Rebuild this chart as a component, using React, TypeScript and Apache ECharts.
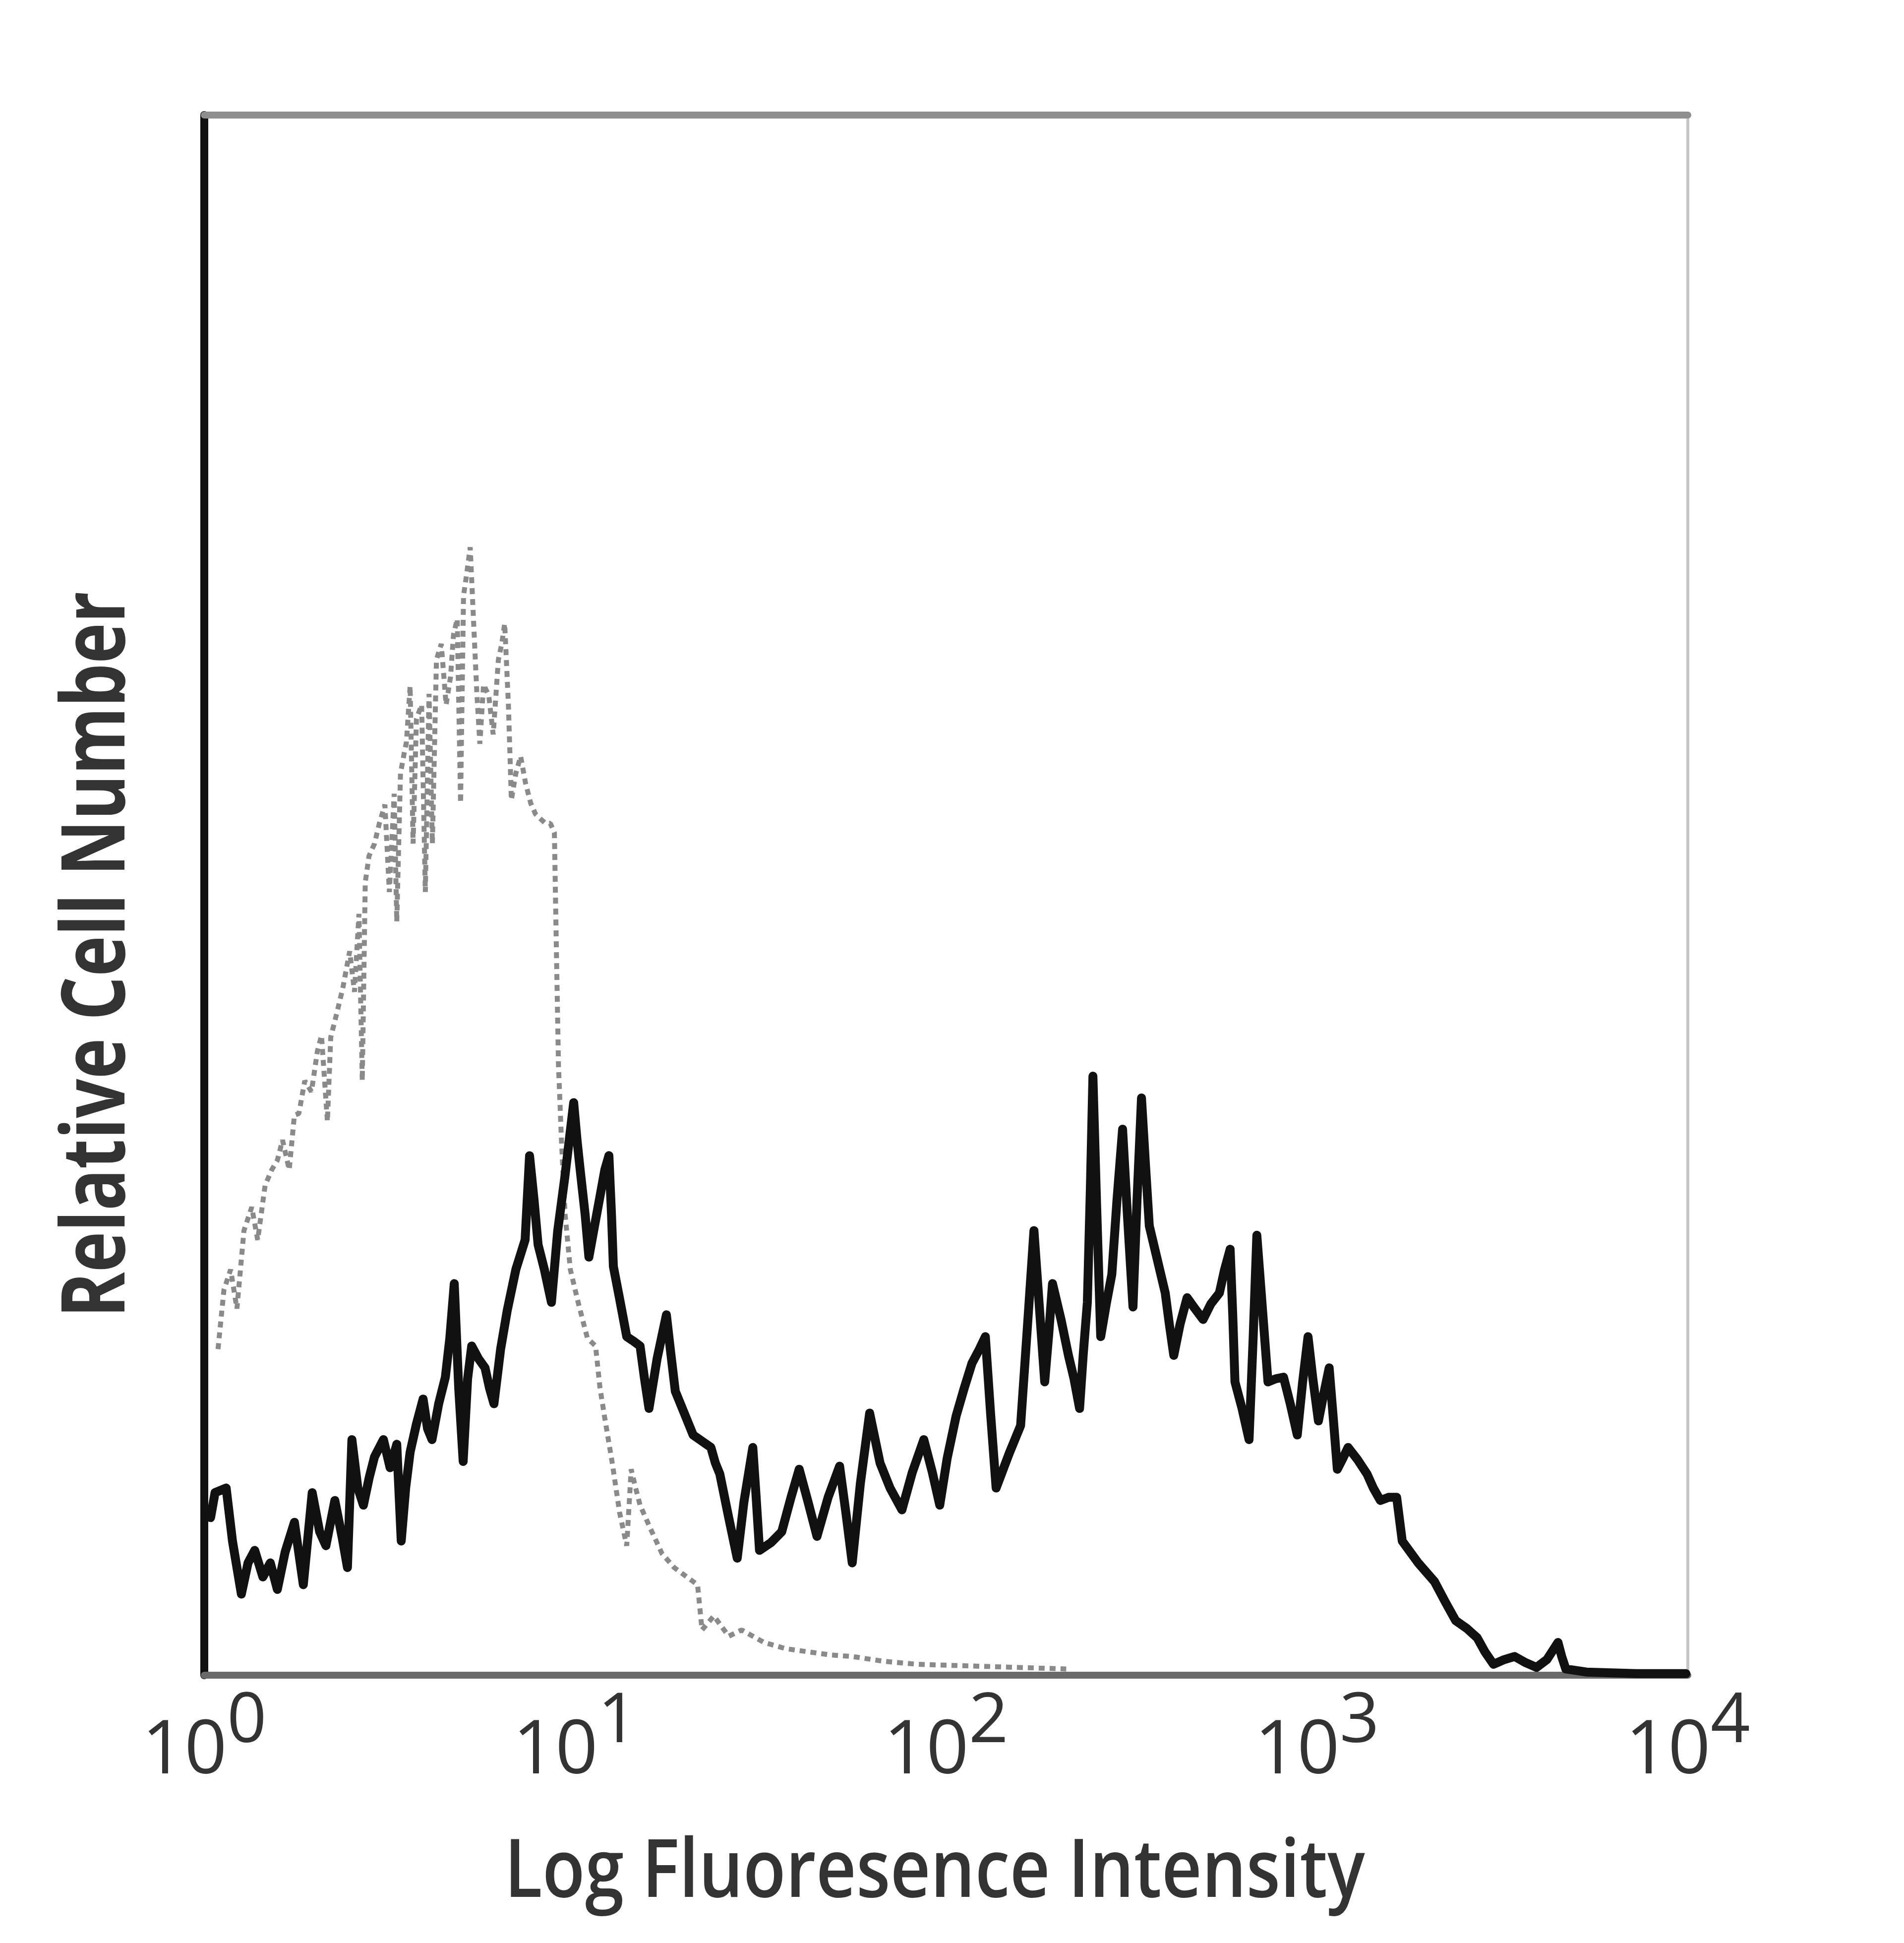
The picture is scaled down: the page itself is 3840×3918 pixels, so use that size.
import React, { useEffect, useRef } from 'react';
import * as echarts from 'echarts';

// Tick exponents for the log-decade x axis (10^n)
const tickExponents = ['0', '1', '2', '3', '4'];
const xTitle = 'Log Fluoresence Intensity';
const yTitle = 'Relative Cell Number';

// Stained sample (solid black histogram): x in decades (log10 intensity), y relative cell number
const stainedX = [0.017,0.029,0.059,0.076,0.100,0.118,0.136,0.158,0.178,0.197,0.218,0.243,0.267,0.291,0.311,0.328,0.352,0.372,0.386,0.398,0.414,0.429,0.445,0.459,0.483,0.501,0.519,0.531,0.543,0.555,0.572,0.590,0.602,0.614,0.632,0.650,0.662,0.674,0.686,0.698,0.710,0.721,0.739,0.757,0.769,0.781,0.799,0.817,0.840,0.865,0.877,0.889,0.900,0.917,0.936,0.953,0.972,0.987,0.996,1.005,1.013,1.027,1.037,1.053,1.067,1.080,1.091,1.098,1.103,1.120,1.139,1.158,1.175,1.187,1.199,1.221,1.246,1.258,1.270,1.294,1.318,1.342,1.366,1.378,1.390,1.414,1.437,1.455,1.479,1.488,1.497,1.528,1.557,1.582,1.604,1.628,1.652,1.682,1.713,1.730,1.747,1.769,1.794,1.822,1.849,1.881,1.909,1.940,1.963,1.983,2.003,2.027,2.049,2.070,2.090,2.106,2.120,2.135,2.170,2.201,2.219,2.237,2.251,2.266,2.277,2.287,2.310,2.330,2.345,2.360,2.370,2.381,2.389,2.396,2.406,2.417,2.432,2.447,2.461,2.476,2.489,2.504,2.515,2.527,2.537,2.548,2.570,2.591,2.602,2.614,2.631,2.650,2.671,2.693,2.714,2.737,2.751,2.766,2.773,2.779,2.798,2.817,2.828,2.838,2.853,2.868,2.889,2.910,2.928,2.947,2.961,2.976,2.989,3.004,3.019,3.033,3.044,3.055,3.070,3.084,3.110,3.135,3.152,3.171,3.193,3.215,3.230,3.273,3.317,3.346,3.374,3.404,3.432,3.453,3.476,3.505,3.533,3.563,3.592,3.620,3.650,3.660,3.671,3.727,3.861,3.995];
const stainedY = [10.1,11.7,12.0,8.6,5.2,7.2,8.0,6.3,7.2,5.5,7.9,9.8,5.8,11.7,9.2,8.3,11.2,8.8,6.9,15.1,12.0,10.9,12.7,14.0,15.1,13.3,14.8,8.6,12.0,14.3,16.1,17.7,15.8,15.1,17.4,19.1,21.6,25.1,18.4,13.7,19.0,21.1,20.3,19.7,18.4,17.4,20.9,23.4,26.0,27.9,33.3,30.5,27.6,26.0,23.9,28.5,31.9,34.9,36.7,34.3,32.5,29.5,26.8,28.9,30.7,32.4,33.3,29.5,26.2,24.1,21.7,21.4,21.1,19.0,17.1,20.3,23.1,20.6,18.2,16.8,15.4,15.0,14.6,13.6,12.9,10.1,7.5,11.1,14.6,11.4,8.0,8.5,9.2,11.4,13.2,11.1,8.9,11.4,13.4,10.4,7.2,12.3,16.8,13.6,12.0,10.6,13.0,15.1,13.0,10.9,13.9,16.6,18.4,20.0,20.9,21.7,16.8,12.0,14.2,16.0,22.2,28.5,23.8,18.8,21.9,25.1,22.8,20.5,19.0,17.1,20.6,23.9,31.1,38.4,30.1,21.7,23.8,25.7,30.5,35.0,29.5,23.6,30.5,37.0,33.0,28.8,26.6,24.5,22.5,20.5,22.5,24.2,23.5,22.8,23.8,24.5,26.0,27.3,23.1,18.8,17.1,15.1,21.6,28.2,23.5,18.8,19.0,19.1,17.4,15.4,18.7,21.7,19.0,16.3,18.1,19.7,16.5,13.2,13.9,14.6,13.8,12.9,12.0,11.2,11.4,11.4,8.6,7.2,6.0,4.7,3.5,3.0,2.4,1.5,0.7,1.0,1.2,0.8,0.5,1.0,2.1,1.2,0.4,0.2,0.1,0.1];

// Isotype control (grey dotted histogram)
const isotypeX = [0.037,0.053,0.071,0.088,0.107,0.128,0.144,0.164,0.182,0.197,0.211,0.229,0.243,0.255,0.271,0.289,0.305,0.316,0.332,0.341,0.358,0.374,0.392,0.405,0.417,0.426,0.434,0.444,0.459,0.472,0.487,0.499,0.512,0.519,0.529,0.539,0.545,0.555,0.563,0.572,0.586,0.596,0.606,0.615,0.626,0.639,0.652,0.664,0.672,0.682,0.691,0.699,0.707,0.717,0.726,0.735,0.743,0.753,0.767,0.779,0.793,0.802,0.810,0.820,0.828,0.840,0.853,0.866,0.880,0.893,0.906,0.920,0.933,0.944,0.949,0.955,0.963,0.973,0.987,1.008,1.033,1.055,1.067,1.079,1.100,1.120,1.139,1.151,1.163,1.175,1.201,1.234,1.267,1.301,1.330,1.342,1.374,1.414,1.449,1.509,1.568,1.628,1.688,1.747,1.829,1.922,2.056,2.190,2.324];
const isotypeY = [20.9,24.7,26.0,23.5,28.5,30.0,27.9,31.4,32.4,33.0,34.3,32.4,35.9,36.0,38.1,37.4,40.0,41.0,35.5,40.9,42.5,44.1,46.4,43.8,48.8,38.1,50.8,52.5,53.3,54.6,55.8,50.2,56.5,48.3,57.8,59.1,59.8,63.4,53.3,61.3,62.2,50.2,62.9,53.3,65.1,66.1,62.2,64.0,66.7,67.7,55.9,69.2,70.5,72.3,67.6,62.9,59.7,63.5,62.8,60.3,65.1,66.1,67.4,62.2,56.1,57.8,58.9,57.2,55.9,55.2,54.9,54.6,54.6,54.0,47.0,39.1,34.3,29.5,26.0,23.9,21.6,21.1,18.4,16.6,13.6,10.4,8.3,13.2,12.0,10.9,9.5,7.8,6.9,6.3,5.8,2.9,3.8,2.5,2.9,2.1,1.7,1.5,1.3,1.2,0.9,0.7,0.6,0.5,0.4];

const zip = (xs: number[], ys: number[]) => {
  const n = Math.min(xs.length, ys.length);
  const out: number[][] = [];
  for (let i = 0; i < n; i++) out.push([xs[i], ys[i]]);
  return out;
};

const FONT = '"Open Sans", "Noto Sans", sans-serif';

export default function App() {
  const ref = useRef<HTMLDivElement | null>(null);

  useEffect(() => {
    document.body.style.margin = '0';
    if (!ref.current) return;
    const chart = echarts.init(ref.current, undefined, { renderer: 'svg' });

    const hiddenAxisParts = {
      axisTick: { show: false },
      axisLabel: { show: false },
      splitLine: { show: false },
    };

    chart.setOption({
      animation: false,
      backgroundColor: '#ffffff',
      grid: { left: 412, top: 232, right: 436, bottom: 540, containLabel: false },
      xAxis: [
        {
          type: 'value',
          min: 0,
          max: 4,
          interval: 1,
          position: 'bottom',
          axisLine: { show: true, onZero: false, lineStyle: { color: '#6a6a6a', width: 14 } },
          axisTick: { show: false },
          splitLine: { show: false },
          axisLabel: {
            show: true,
            margin: 65,
            formatter: (v: number) => `{b|10}{s|${tickExponents[Math.round(v)] ?? ''}}`,
            rich: {
              b: { fontSize: 150, lineHeight: 150, fontFamily: FONT, color: '#333', verticalAlign: 'bottom' },
              s: { fontSize: 140, lineHeight: 140, fontFamily: FONT, color: '#333', verticalAlign: 'bottom', padding: [0, 0, 65, 0] },
            },
          },
        },
        {
          type: 'value',
          min: 0,
          max: 4,
          interval: 1,
          position: 'top',
          axisLine: { show: true, onZero: false, lineStyle: { color: '#8e8e8e', width: 14 } },
          ...hiddenAxisParts,
        },
      ],
      yAxis: [
        {
          type: 'value',
          min: 0,
          max: 100,
          position: 'left',
          axisLine: { show: true, onZero: false, lineStyle: { color: '#111111', width: 16 } },
          ...hiddenAxisParts,
        },
        {
          type: 'value',
          min: 0,
          max: 100,
          position: 'right',
          axisLine: { show: true, onZero: false, lineStyle: { color: '#c6c6c6', width: 6 } },
          ...hiddenAxisParts,
        },
      ],
      series: [
        {
          name: 'Isotype control',
          type: 'line',
          xAxisIndex: 0,
          yAxisIndex: 0,
          data: zip(isotypeX, isotypeY),
          symbol: 'none',
          showSymbol: false,
          lineStyle: { color: '#8a8a8a', width: 10, type: [12, 10] },
          z: 3,
        },
        {
          name: 'Stained',
          type: 'line',
          xAxisIndex: 0,
          yAxisIndex: 0,
          data: zip(stainedX, stainedY),
          symbol: 'none',
          showSymbol: false,
          lineStyle: { color: '#111111', width: 18, join: 'round', cap: 'round' },
          z: 4,
        },
      ],
      graphic: [
        {
          type: 'text',
          x: 1885,
          y: 3762,
          scaleX: 0.86,
          style: {
            text: xTitle,
            fontSize: 164,
            fontFamily: FONT,
            fontWeight: 600,
            fill: '#333',
            align: 'center',
            verticalAlign: 'middle',
          },
        },
        {
          type: 'text',
          x: 182,
          y: 1925,
          rotation: Math.PI / 2,
          scaleX: 0.78,
          style: {
            text: yTitle,
            fontSize: 178,
            fontFamily: FONT,
            fontWeight: 'bold',
            fill: '#333',
            align: 'center',
            verticalAlign: 'middle',
          },
        },
      ],
    });

    return () => chart.dispose();
  }, []);

  return <div ref={ref} style={{ width: 3840, height: 3918 }} />;
}
